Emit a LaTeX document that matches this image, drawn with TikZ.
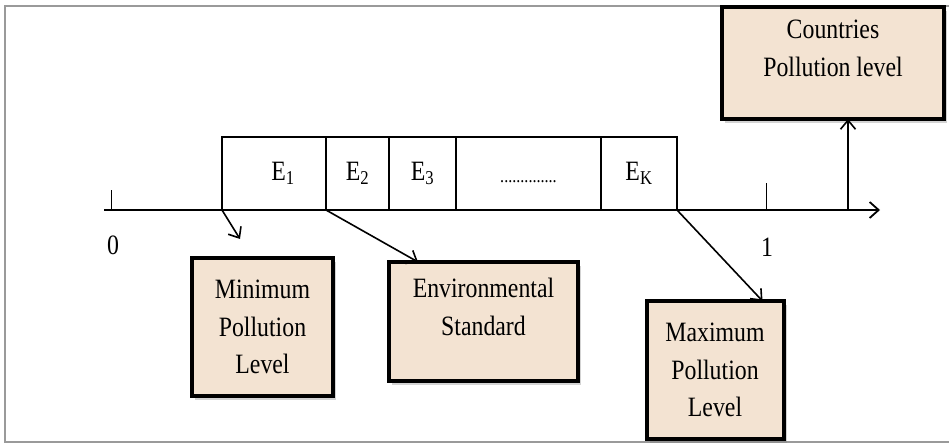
\documentclass[tikz,border=0pt]{standalone}
\usepackage{fontspec}
\setmainfont{Liberation Serif}[FakeStretch=0.85]
\usepackage{xcolor}
\usetikzlibrary{positioning,arrows.meta,shadows}
\definecolor{boxTan}{HTML}{F3E3D2}
\definecolor{frameGray}{HTML}{9A9A9A}

\begin{document}
\begin{tikzpicture}[
  x=1pt,y=1pt,
  every node/.style={inner sep=0pt,outer sep=0pt,font=\fontsize{28}{37.5}\selectfont},
  levelbox/.style={draw,line width=4pt,fill=boxTan,align=center,
    drop shadow={opacity=0.35,shadow xshift=3pt,shadow yshift=-4pt}},
  cell/.style={draw,line width=1.3pt,minimum height=73pt,anchor=south west},
  pointer/.style={line width=1.6pt,-{Straight Barb[length=9pt,width=15pt,line width=1.6pt]}}
]
\useasboundingbox (0,0) rectangle (949,444);

% outer frame
\draw[frameGray,line width=2.5pt] (949,438) -- (5,438) -- (5,2) -- (949,2);

% interval cells on the axis
\node[cell,minimum width=104pt] (e1) at (222,234) {\hspace{18pt}E\textsubscript{1}};
\node[cell,minimum width=63pt,right=0pt of e1] (e2) {E\textsubscript{2}\hspace{8pt}};
\node[cell,minimum width=67pt,right=0pt of e2] (e3) {E\textsubscript{3}};
\node[cell,minimum width=145pt,right=0pt of e3] (dots) {{\fontsize{19}{20}\selectfont ..............}\vphantom{E}};
\node[cell,minimum width=76pt,right=0pt of dots] (ek) {E\textsubscript{K}\hspace{4pt}};

% axis with ticks
\coordinate (axisStart) at (104,234);
\coordinate (axisEnd) at (880,234);
\draw[line width=1.8pt,-{Straight Barb[length=9pt,width=16pt,line width=1.8pt]}] (axisStart) -- (axisEnd);
\coordinate (zeroTick) at (111,234);
\coordinate (oneTick) at (766,234);
\draw[line width=1pt] (zeroTick) -- ++(0,20);
\draw[line width=1pt] (oneTick) -- ++(0,27);
\node (zero) at (113,199) {0};
\node (one) at (767,197) {1};

% level boxes
\node[levelbox,minimum width=141pt,minimum height=138pt] (minLevel) at (262.5,117) {Minimum\\Pollution\\Level};
\node[levelbox,minimum width=189pt,minimum height=119pt] (envStd) at (483.5,122.5) {Environmental\\Standard\\[-8pt]\mbox{}};
\node[levelbox,minimum width=137pt,minimum height=138pt] (maxLevel) at (715,74) {Maximum\\Pollution\\Level};
\node[levelbox,minimum width=222pt,minimum height=112pt] (countries) at (833,381) {Countries\\Pollution level\\[-8pt]\mbox{}};

% pointers
\coordinate (minTip) at (240,205);
\coordinate (envTip) at ([xshift=29pt]envStd.north west);
\coordinate (maxTip) at ([xshift=-21pt]maxLevel.north east);
\coordinate (upFoot) at (848,234);
\draw[pointer] (e1.south west) -- (minTip);
\draw[pointer] (e2.south west) -- (envTip);
\draw[pointer] (ek.south east) -- (maxTip);
\draw[pointer] (upFoot) -- (countries.south -| upFoot);
\end{tikzpicture}
\end{document}
